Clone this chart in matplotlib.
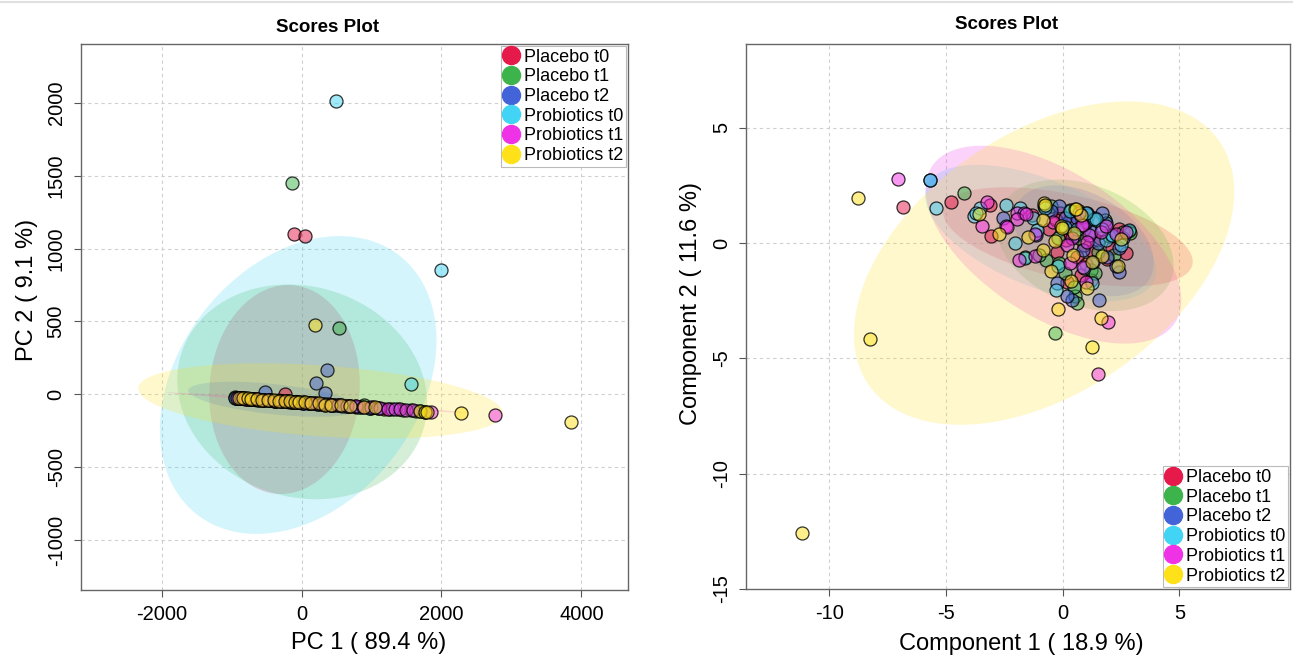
import numpy as np
import matplotlib
matplotlib.use('Agg')
import matplotlib.pyplot as plt
from matplotlib.colors import to_rgba
from matplotlib.lines import Line2D

plt.rcParams['font.family'] = ['Liberation Sans', 'DejaVu Sans']
plt.rcParams['axes.unicode_minus'] = False

# ── Groups ──────────────────────────────────────────────────────────────
GROUPS = ['Placebo t0', 'Placebo t1', 'Placebo t2',
          'Probiotics t0', 'Probiotics t1', 'Probiotics t2']
COLORS = ['#E6194B', '#3CB44B', '#4363D8', '#42D4F4', '#F032E6', '#FFE119']

# ── PCA scores (left) ───────────────────────────────────────────────────
pca_p0_x = [-111, 46, -930, -880, -820, -760, -700, -640, -560, -480, -400, -320, -250,
            -230, -180, -100, -40, 40, 130, 240, 330, 450, 560, 700, 850, 1000, 1180, 1250]
pca_p0_y = [1098, 1086, -22, -25, -28, -30, -35, -33, -38, -40, -44, -42, -48,
            5, -50, -52, -55, -57, -62, -66, -70, -72, -76, -82, -86, -92, -98, -100]

pca_p1_x = [-141, 541, -950, -900, -840, -790, -720, -660, -590, -520, -430, -350, -270,
            -200, -130, -60, 20, 110, 200, 300, 420, 530, 660, 780, 900, 1020, 1380, 1450,
            1560, 1640, 1700, 1760]
pca_p1_y = [1448, 453, -20, -24, -26, -28, -30, -34, -36, -38, -42, -45, -46,
            -48, -50, -52, -56, -60, -63, -66, -72, -75, -80, -84, -75, -90, -104, -108,
            -110, -114, -117, -118]

pca_p2_x = [366, 214, 333, -524, -940, -890, -830, -770, -710, -630, -550, -470, -380,
            -300, -210, -140, -70, 10, 90, 170, 260, 380, 500, 640, 760, 980, 1100]
pca_p2_y = [166, 75, 7, 18, -24, -22, -27, -31, -33, -36, -38, -42, -44,
            -45, -47, -50, -54, -58, -60, -62, -66, -68, -73, -78, -82, -95, -92]

pca_b0_x = [500, 1999, 1561, -955, -910, -860, -800, -740, -680, -610, -530, -450, -370,
            -290, -200, -120, -50, 30, 120, 220, 330, 450, 580, 700, 820, 960, 1100, 1300]
pca_b0_y = [2013, 853, 68, -22, -26, -23, -29, -32, -30, -37, -40, -41, -45,
            -47, -46, -52, -53, -56, -61, -64, -68, -72, -78, -80, -86, -96, -95, -102]

pca_b1_x = [2762, -920, -870, -810, -750, -690, -620, -540, -460, -380, -300, -220, -140,
            -60, 20, 100, 190, 290, 400, 520, 650, 780, 880, 1000, 1120, 1240, 1330, 1410,
            1500, 1600, 1850]
pca_b1_y = [-142, -24, -26, -29, -31, -34, -35, -39, -41, -43, -46, -48, -51,
            -54, -57, -60, -63, -66, -70, -74, -79, -83, -86, -90, -94, -98, -100, -103,
            -107, -110, -118]

pca_b2_x = [190, 2285, 3853, -900, -830, -770, -720, -640, -560, -480, -400, -320, -240,
            -170, -100, -30, 50, 140, 250, 330, 420, 560, 700, 900, 1050, 1700, 1760, 1800]
pca_b2_y = [476, -126, -188, -22, -26, -27, -29, -32, -36, -39, -41, -44, -45,
            -49, -50, -53, -56, -58, -62, -70, -70, -75, -80, -86, -90, -116, -118, -120]

# 95% ellipses: centre, half extents, tilt
pca_ell_cx = [-243, 10, -390, -48, 214, 274]
pca_ell_cy = [33, 17, -34, 64, -57, -45]
pca_ell_sx = [1076, 1786, 1230, 1977, 2143, 2607]
pca_ell_sy = [717, 737, 120, 1022, 70, 258]
pca_ell_rho = [0.05, -0.11, -0.5, 0.3, -0.99, -0.33]

# ── PLS-DA scores (right) ───────────────────────────────────────────────
pls_p0_x = [-6.83, -4.79, -3.12, -3.09, -0.24, 2.72, 0.14, 0.78, 1.27, 0.89, -0.1, 0.4, 1.6, 2.1,
            0.6, 1.0, 0.2, 1.4, -0.6, 2.4, 0.3, 1.9, -1.3, 0.9, 1.2, -0.3, 0.7]
pls_p0_y = [1.56, 1.76, 1.66, 0.32, -0.39, -0.43, 0.14, -1.37, -0.36, 1.15, 1.3, 0.9, 0.2, -0.2,
            -0.6, -0.9, -1.7, 1.1, 0.6, 0.6, 0.4, -0.7, 1.2, -0.1, -1.6, 1.0, 1.4]

pls_p1_x = [-4.22, -0.34, -0.14, 0.54, -0.71, 1.2, 2.83, 2.6, -0.2, 0.3, 0.9, 1.5, -1.6, 0.1,
            0.7, 1.8, 2.2, 0.5, -0.5, 1.1, 2.0, -1.0, 0.0, 1.4, 0.6, 2.9]
pls_p1_y = [2.15, -3.9, -0.87, -2.31, -0.72, -1.16, 0.51, 0.5, 0.2, 1.45, 0.6, -0.4, -0.6, -1.3,
            0.2, 1.0, -0.5, -1.9, 1.6, 1.2, 0.3, -0.5, 0.8, -1.3, -2.6, 0.45]

pls_p2_x = [-5.67, 1.56, 0.4, -0.25, 2.41, 2.3, 1.9, -2.55, 1.84, 0.28, -0.14, 1.06, 1.5, 0.5,
            1.2, 2.1, -1.16, 0.85, 2.6, 1.7, 0.1, 1.0, 2.4, -0.5, 0.6, 1.3, 0.2]
pls_p2_y = [2.73, -2.49, -2.46, -1.73, -1.27, -1.0, -0.6, 1.08, 0.87, 0.94, 1.62, 1.3, 0.0, 0.3,
            0.5, 0.3, 0.36, -0.3, 0.2, 1.3, 1.1, 0.9, -0.2, 1.4, 1.1, -0.8, -2.3]

pls_b0_x = [-5.67, -5.45, -2.05, -0.28, -3.82, -3.54, -2.41, -1.84, -1.27, 1.35, 1.27, 1.84,
            2.83, -3.7, -0.8, -1.09, 0.1, 1.42, 2.13, -0.2, 0.6, 1.0, 0.9, -0.77, -1.6, 1.7,
            2.5, 0.3]
pls_b0_y = [2.73, 1.52, 0.0, -2.05, 1.18, 1.52, 1.66, 1.52, 1.08, 1.04, -1.73, 0.14,
            0.55, 1.3, 1.6, 0.57, 0.7, 1.03, 0.36, -1.0, 0.6, 1.3, -1.1, 1.5, -0.65, 0.6,
            -0.1, 1.4]

pls_b1_x = [-7.05, 1.53, 1.95, -3.47, -3.23, -1.87, -2.44, -1.98, -1.67, -1.2, 0.85, 1.13,
            1.63, -1.2, 0.31, 0.85, 1.84, 0.84, 1.06, -0.4, 0.4, 2.3, -1.94, -1.59, 0.2, 1.0,
            2.7, -2.4, 0.7]
pls_b1_y = [2.79, -5.69, -3.44, 0.75, 1.76, -0.72, 0.72, 1.3, 1.3, 0.4, 0.79, 0.36,
            0.46, -0.58, -0.87, -1.04, 0.72, 0.79, 0.03, 0.9, 0.2, 0.4, 1.03, 1.26, -0.1, -1.7,
            0.5, 0.69, 1.3]

pls_b2_x = [-8.78, -8.24, 1.25, -0.21, 1.63, -3.57, -2.72, -1.49, -0.81, -0.85, -0.5, -0.35,
            -0.07, 0.54, 0.5, 0.78, 0.45, 0.35, 1.06, 1.7, 2.38, 2.48, 1.25, -0.85, -11.18,
            -0.77, 0.56, -0.04]
pls_b2_y = [1.95, -4.16, -4.51, -2.86, -3.25, 1.26, 0.4, 0.26, 1.73, -0.29, -1.2, 0.07,
            0.72, 1.47, 0.43, 1.23, -0.51, -1.65, -1.95, -0.58, -0.98, 0.17, -0.84, 1.01, -12.58,
            1.65, 1.46, 0.65]

pls_ell_cx = [0.22, 0.95, 0.9, -0.95, -0.4, -0.8]
pls_ell_cy = [0.27, -0.1, 0.1, 0.43, -0.07, -0.87]
pls_ell_sx = [5.35, 3.8, 3.0, 4.95, 5.48, 8.15]
pls_ell_sy = [2.15, 2.85, 2.4, 2.96, 4.29, 7.01]
pls_ell_rho = [-0.5, -0.3, -0.4, -0.55, -0.56, 0.44]
# ────────────────────────────────────────────────────────────────────────

GRID_KW = dict(color='#CFCFCF', lw=0.8, ls=(0, (3, 3)), zorder=0)


def ellipse_xy(cx, cy, sx, sy, rho, n=240):
    t = np.linspace(0, 2 * np.pi, n)
    x = cx + sx * np.cos(t)
    y = cy + sy * (rho * np.cos(t) + np.sqrt(1 - rho ** 2) * np.sin(t))
    return x, y


def draw_scores(ax, xs, ys, ell, xticks, yticks, xlim, ylim):
    for xt in xticks:
        ax.axvline(xt, **GRID_KW)
    for yt in yticks:
        ax.axhline(yt, **GRID_KW)

    for i, c in enumerate(COLORS):
        ex, ey = ellipse_xy(ell[0][i], ell[1][i], ell[2][i], ell[3][i], ell[4][i])
        ax.fill(ex, ey, color=c, alpha=0.22, lw=0, zorder=1)

    for x, y, c in zip(xs, ys, COLORS):
        ax.scatter(x, y, s=88, facecolor=to_rgba(c, 0.5),
                   edgecolor=(0, 0, 0, 0.8), linewidth=0.9, zorder=3)

    ax.set_xlim(*xlim)
    ax.set_ylim(*ylim)
    ax.set_xticks(xticks)
    ax.set_yticks(yticks)
    ax.tick_params(direction='out', length=5, width=0.8, color='#555555',
                   labelsize=14.5, pad=6)
    for lab in ax.get_yticklabels():
        lab.set_rotation(90)
        lab.set_va('center')
    for sp in ax.spines.values():
        sp.set_color('#666666')
        sp.set_linewidth(1.0)


def add_legend(ax, loc, anchor):
    handles = [Line2D([], [], ls='none', marker='o', markersize=13,
                      markerfacecolor=c, markeredgecolor=c) for c in COLORS]
    leg = ax.legend(handles, GROUPS, loc=loc, bbox_to_anchor=anchor, fontsize=13,
                    frameon=True, fancybox=False, edgecolor='#BBBBBB', framealpha=1,
                    handlelength=0.9, handletextpad=0.25, labelspacing=0.15,
                    borderpad=0.15, borderaxespad=0.1)
    leg.get_frame().set_linewidth(0.8)
    leg.set_zorder(5)


fig = plt.figure(figsize=(12.93, 6.59), dpi=100)
ax1 = fig.add_axes([0.0626, 0.1047, 0.4231, 0.8285])
ax2 = fig.add_axes([0.5770, 0.1062, 0.4207, 0.8270])

draw_scores(ax1,
            [pca_p0_x, pca_p1_x, pca_p2_x, pca_b0_x, pca_b1_x, pca_b2_x],
            [pca_p0_y, pca_p1_y, pca_p2_y, pca_b0_y, pca_b1_y, pca_b2_y],
            [pca_ell_cx, pca_ell_cy, pca_ell_sx, pca_ell_sy, pca_ell_rho],
            [-2000, 0, 2000, 4000], [-1000, -500, 0, 500, 1000, 1500, 2000],
            (-3153, 4667), (-1343, 2404))
ax1.set_xlabel('PC 1 ( 89.4 %)', fontsize=17, va='center')
ax1.set_ylabel('PC 2 ( 9.1 %)', fontsize=17, va='center')
ax1.xaxis.set_label_coords(0.525, -0.097)
ax1.yaxis.set_label_coords(-0.099, 0.55)
ax1.text(0.45, 1.031, 'Scores Plot', transform=ax1.transAxes, ha='center', va='center',
         fontsize=13.5, fontweight='bold')
add_legend(ax1, 'upper right', (1.0, 1.0))

draw_scores(ax2,
            [pls_p0_x, pls_p1_x, pls_p2_x, pls_b0_x, pls_b1_x, pls_b2_x],
            [pls_p0_y, pls_p1_y, pls_p2_y, pls_b0_y, pls_b1_y, pls_b2_y],
            [pls_ell_cx, pls_ell_cy, pls_ell_sx, pls_ell_sy, pls_ell_rho],
            [-10, -5, 0, 5], [-15, -10, -5, 0, 5],
            (-13.57, 9.74), (-15, 8.63))
ax2.set_xlabel('Component 1 ( 18.9 %)', fontsize=17, va='center')
ax2.set_ylabel('Component 2 ( 11.6 %)', fontsize=17, va='center')
ax2.xaxis.set_label_coords(0.506, -0.101)
ax2.yaxis.set_label_coords(-0.101, 0.523)
ax2.text(0.478, 1.036, 'Scores Plot', transform=ax2.transAxes, ha='center', va='center',
         fontsize=13.5, fontweight='bold')
add_legend(ax2, 'lower right', (1.0, 0.0))

# thin page border at the very top
fig.add_artist(Line2D([0, 1], [0.997, 0.997], transform=fig.transFigure,
                      color='#E0E0E0', lw=1.5))

fig.savefig('out.png', dpi=100, facecolor='white')
